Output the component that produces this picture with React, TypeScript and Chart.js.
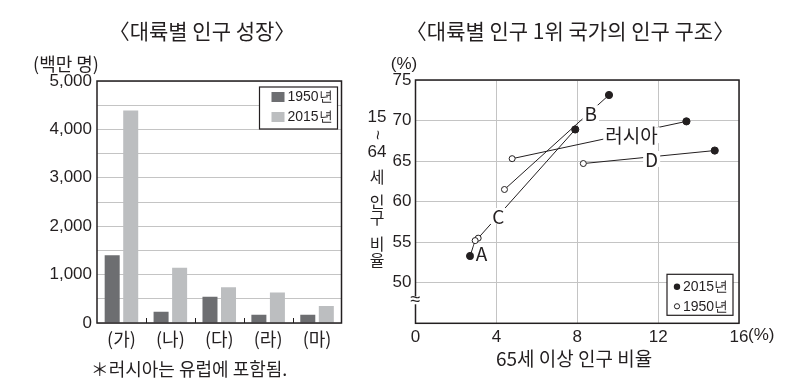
import React, { useEffect, useRef } from 'react';
import { Chart, registerables } from 'chart.js';

Chart.register(...registerables);

// ---------- Left chart data ----------
const continents = ['(가)', '(나)', '(다)', '(라)', '(마)'];
const pop1950 = [1400, 230, 540, 170, 170];
const pop2015 = [4390, 1140, 740, 630, 350];
const barSeries = ['1950년', '2015년'];

// ---------- Right chart data ----------
const countries = ['A', 'B', 'C', '러시아', 'D'];
const elderly1950 = [2.95, 4.4, 3.1, 4.78, 8.3];
const working1950 = [55.2, 61.5, 55.5, 65.3, 64.7];
const elderly2015 = [2.7, 9.57, 7.9, 13.4, 14.8];
const working2015 = [53.3, 73.15, 68.9, 69.9, 66.3];
// label anchor points (data units)
const labelAtX = [3.27, 8.67, 4.09, 10.68, 11.68];
const labelAtY = [53.7, 70.9, 58.23, 68.2, 65.26];
const scatterSeries = ['2015년', '1950년'];

const INK = '#231f20';
const DARK = '#6d6e71';
const LIGHT = '#bcbec0';
const GRID = '#c4c4c4';
const NUM_FONT = "'Liberation Sans', Arial, sans-serif";
const KR_FONT = "'Noto Sans CJK KR', 'Noto Sans', sans-serif";

const leftPlugin = {
  id: 'leftDeco',
  afterDatasetsDraw(chart: any) {
    const { ctx, chartArea: a, scales } = chart;
    ctx.save();
    // small tick marks at category boundaries
    ctx.strokeStyle = INK;
    ctx.lineWidth = 1;
    const x = scales.x;
    for (let i = 1; i < continents.length; i++) {
      const px = Math.round((x.getPixelForValue(i - 1) + x.getPixelForValue(i)) / 2) + 0.5;
      ctx.beginPath();
      ctx.moveTo(px, a.bottom);
      ctx.lineTo(px, a.bottom - 5);
      ctx.stroke();
    }
    // frame
    ctx.lineWidth = 1.5;
    ctx.strokeRect(a.left, a.top, a.right - a.left, a.bottom - a.top);
    // legend
    const bw = 78, bh = 42;
    const bx = a.right - 4 - bw, by = a.top + 6;
    ctx.fillStyle = '#fff';
    ctx.fillRect(bx, by, bw, bh);
    ctx.lineWidth = 1.2;
    ctx.strokeStyle = INK;
    ctx.strokeRect(bx, by, bw, bh);
    const cols = [DARK, LIGHT];
    ctx.font = `14px ${NUM_FONT}`;
    ctx.textBaseline = 'middle';
    ctx.textAlign = 'left';
    barSeries.forEach((s, i) => {
      const cy = by + 10 + i * 20;
      ctx.fillStyle = cols[i];
      ctx.fillRect(bx + 12, cy - 5, 13, 10);
      ctx.fillStyle = INK;
      ctx.fillText(s, bx + 28, cy + 0.5);
    });
    ctx.restore();
  },
};

const rightPlugin = {
  id: 'rightDeco',
  afterDatasetsDraw(chart: any) {
    const { ctx, chartArea: a, scales } = chart;
    ctx.save();
    // labels with white background
    ctx.font = `19px ${KR_FONT}`;
    ctx.textAlign = 'center';
    ctx.textBaseline = 'middle';
    countries.forEach((c, i) => {
      const px = scales.x.getPixelForValue(labelAtX[i]);
      const py = scales.y.getPixelForValue(labelAtY[i]);
      const w = ctx.measureText(c).width;
      ctx.fillStyle = '#fff';
      ctx.fillRect(px - w / 2 - 2, py - 8, w + 4, 16);
      ctx.fillStyle = INK;
      ctx.fillText(c, px, py + 1);
    });
    // frame
    ctx.strokeStyle = INK;
    ctx.lineWidth = 1.5;
    ctx.strokeRect(a.left, a.top, a.right - a.left, a.bottom - a.top);
    // axis break mark
    const by = a.bottom - 23;
    ctx.fillStyle = '#fff';
    ctx.fillRect(a.left - 5, by - 4, 10, 8);
    ctx.fillStyle = INK;
    ctx.font = `18px ${NUM_FONT}`;
    ctx.fillText('≈', a.left, by);
    // legend
    const bw = 66, bh = 41;
    const bx = a.right - 6 - bw, bby = a.bottom - 8 - bh;
    ctx.fillStyle = '#fff';
    ctx.fillRect(bx, bby, bw, bh);
    ctx.lineWidth = 1.2;
    ctx.strokeRect(bx, bby, bw, bh);
    ctx.font = `14px ${NUM_FONT}`;
    ctx.textAlign = 'left';
    scatterSeries.forEach((s, i) => {
      const cy = bby + 12.5 + i * 19.5;
      ctx.beginPath();
      if (i === 0) {
        ctx.arc(bx + 10, cy, 3.2, 0, Math.PI * 2);
        ctx.fillStyle = INK;
        ctx.fill();
      } else {
        ctx.arc(bx + 10, cy, 2.6, 0, Math.PI * 2);
        ctx.fillStyle = '#fff';
        ctx.fill();
        ctx.lineWidth = 1;
        ctx.strokeStyle = INK;
        ctx.stroke();
      }
      ctx.fillStyle = INK;
      ctx.fillText(s, bx + 16, cy + 0.5);
    });
    ctx.restore();
  },
};

function LeftChart() {
  const ref = useRef<HTMLCanvasElement>(null);
  useEffect(() => {
    const chart = new Chart(ref.current!, {
      type: 'bar',
      data: {
        labels: continents,
        datasets: [
          { label: barSeries[0], data: pop1950, backgroundColor: DARK, borderWidth: 0, categoryPercentage: 0.758, barPercentage: 0.81 },
          { label: barSeries[1], data: pop2015, backgroundColor: LIGHT, borderWidth: 0, categoryPercentage: 0.758, barPercentage: 0.81 },
        ],
      },
      options: {
        responsive: false,
        animation: false,
        devicePixelRatio: 1,
        layout: { padding: { left: 0, top: 81, right: 18.5, bottom: 27 } },
        plugins: { legend: { display: false }, tooltip: { enabled: false } },
        scales: {
          x: {
            grid: { display: false, drawTicks: false },
            border: { display: false },
            ticks: { font: { family: KR_FONT, size: 18 }, color: INK, padding: 5 },
            afterFit: (s: any) => { s.height = 40; },
          },
          y: {
            min: 0,
            max: 5000,
            ticks: {
              stepSize: 500,
              callback: (v: any) => (Number(v) % 1000 === 0 ? Number(v).toLocaleString('en-US') : ''),
              font: { family: NUM_FONT, size: 17 },
              color: INK,
              padding: 5,
            },
            grid: { color: GRID, drawTicks: false, lineWidth: 1 },
            border: { display: false },
            afterFit: (s: any) => { s.width = 97; },
          },
        },
      },
      plugins: [leftPlugin],
    } as any);
    return () => chart.destroy();
  }, []);
  return <canvas ref={ref} width={360} height={390} style={{ position: 'absolute', left: 0, top: 0 }} />;
}

function RightChart() {
  const ref = useRef<HTMLCanvasElement>(null);
  useEffect(() => {
    const chart = new Chart(ref.current!, {
      type: 'scatter',
      data: {
        datasets: countries.map((c, i) => ({
          label: c,
          data: [
            { x: elderly1950[i], y: working1950[i] },
            { x: elderly2015[i], y: working2015[i] },
          ],
          showLine: true,
          borderColor: INK,
          borderWidth: 1,
          pointRadius: [3, 3.6],
          pointBackgroundColor: ['#fff', INK],
          pointBorderColor: INK,
          pointBorderWidth: 1,
        })),
      },
      options: {
        responsive: false,
        animation: false,
        devicePixelRatio: 1,
        layout: { padding: { left: 0, top: 80, right: 67, bottom: 26.7 } },
        plugins: { legend: { display: false }, tooltip: { enabled: false } },
        scales: {
          x: {
            type: 'linear',
            min: 0,
            max: 16,
            ticks: { stepSize: 4, font: { family: NUM_FONT, size: 17 }, color: INK, padding: 4 },
            grid: { color: GRID, drawTicks: false, lineWidth: 1 },
            border: { display: false },
            afterFit: (s: any) => { s.height = 40; },
          },
          y: {
            min: 45,
            max: 75,
            ticks: {
              stepSize: 5,
              callback: (v: any) => (Number(v) === 45 ? '' : String(v)),
              font: { family: NUM_FONT, size: 17 },
              color: INK,
              padding: 4,
            },
            grid: { color: GRID, drawTicks: false, lineWidth: 1 },
            border: { display: false },
            afterFit: (s: any) => { s.width = 55.5; },
          },
        },
      },
      plugins: [rightPlugin],
    } as any);
    return () => chart.destroy();
  }, []);
  return <canvas ref={ref} width={446} height={390} style={{ position: 'absolute', left: 360, top: 0 }} />;
}

function T({ x, y, size = 18, font = KR_FONT, align = 'center', children }: any) {
  const tx = align === 'center' ? '-50%' : align === 'right' ? '-100%' : '0';
  return (
    <div
      style={{
        position: 'absolute',
        left: x,
        top: y,
        transform: `translate(${tx}, -50%)`,
        fontFamily: font,
        fontSize: size,
        lineHeight: 1,
        whiteSpace: 'nowrap',
        color: INK,
      }}
    >
      {children}
    </div>
  );
}

const yTitleParts = [
  { t: '15', y: 116, f: NUM_FONT, s: 17 },
  { t: '~', y: 135, f: NUM_FONT, rot: true, s: 17 },
  { t: '64', y: 151, f: NUM_FONT, s: 17 },
  { t: '세', y: 176 },
  { t: '인', y: 201 },
  { t: '구', y: 217 },
  { t: '비', y: 243 },
  { t: '율', y: 259 },
];

export default function App() {
  return (
    <div style={{ position: 'absolute', left: 0, top: 0, width: 806, height: 390, background: '#fff', overflow: 'hidden' }}>
      <LeftChart />
      <RightChart />
      <T x={202} y={30} size={21}>〈대륙별 인구 성장〉</T>
      <T x={570} y={30} size={21}>〈대륙별 인구 1위 국가의 인구 구조〉</T>
      <T x={66} y={63} size={18}>(백만 명)</T>
      <T x={189} y={368}>＊러시아는 유럽에 포함됨.</T>
      <T x={404} y={63} size={17} font={NUM_FONT}>(%)</T>
      <T x={748} y={334} size={17} font={NUM_FONT} align="left">(%)</T>
      <T x={574} y={357} size={19}>65세 이상 인구 비율</T>
      {yTitleParts.map((p, i) => (
        <div
          key={i}
          style={{
            position: 'absolute',
            left: 377,
            top: p.y,
            transform: `translate(-50%, -50%)${p.rot ? ' rotate(90deg)' : ''}`,
            fontFamily: p.f || KR_FONT,
            fontSize: p.s || 16,
            lineHeight: 1,
            color: INK,
            whiteSpace: 'nowrap',
          }}
        >
          {p.t}
        </div>
      ))}
    </div>
  );
}
